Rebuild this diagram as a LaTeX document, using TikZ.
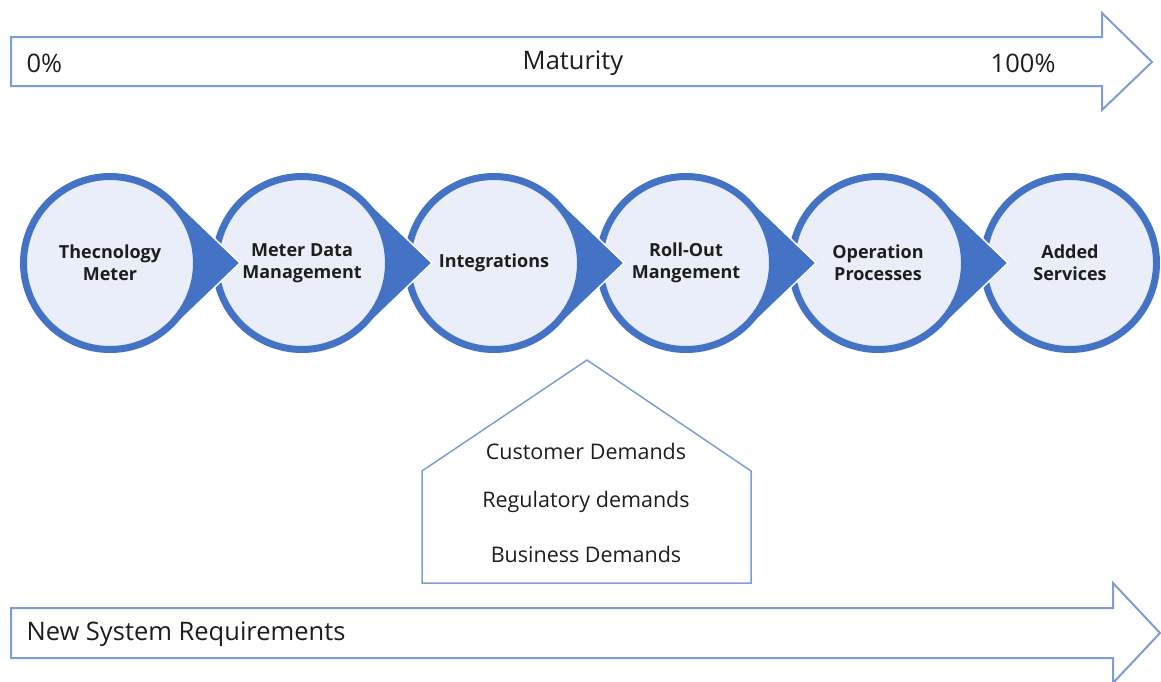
\documentclass[tikz,border=0pt]{standalone}
\usepackage{fontspec}
\setmainfont{Open Sans}
\usetikzlibrary{calc}
\definecolor{ringblue}{RGB}{68,114,196}
\definecolor{paleblue}{RGB}{233,238,248}
\definecolor{lineblue}{RGB}{126,157,214}
\definecolor{textgray}{RGB}{30,30,30}
\tikzset{
	stage/.style={circle,draw=ringblue,fill=paleblue,line width=7pt,minimum size=173pt,inner sep=0pt,align=center,text=textgray,font=\fontsize{18}{22}\selectfont\bfseries},
	stagetail/.style={fill=ringblue,draw=white,line width=1.5pt},
	bararrow/.style={draw=lineblue,line width=2pt,fill=white,line join=miter},
	demandbox/.style={draw=lineblue,line width=1.5pt},
	barlabel/.style={text=textgray,font=\fontsize{25.5}{30}\selectfont},
	demand/.style={text=textgray,font=\fontsize{21.5}{26}\selectfont}
}
\begin{document}
\begin{tikzpicture}[x=1pt,y=-1pt]
	\useasboundingbox (0,0) rectangle (1161,681);

	\draw[bararrow] (11,37) -- (1102,37) -- (1102,13) -- (1152,62) -- (1102,110) -- (1102,86) -- (11,86) -- cycle;
	\node[barlabel,anchor=west] (low) at (23,63) {0\%};
	\node[barlabel] (maturity) at (573,63) {Maturity};
	\node[barlabel,anchor=east] (high) at (1059,63) {100\%};

	\node[stage] (c6) at (1070,263) {Added\\Services};
	\foreach \i/\x/\txt in {5/878/{Operation\\Processes},4/686/{Roll-Out\\Mangement},3/494/{Integrations},2/302/{Meter Data\\Management},1/110/{Thecnology\\Meter}}{
		\coordinate (p\i) at (\x,263);
		\filldraw[stagetail] (p\i) -- ($(p\i)+(46:90)$) -- ($(p\i)+(130,0)$) -- ($(p\i)+(-46:90)$) -- cycle;
		\node[stage] (c\i) at (p\i) {\txt};
	}

	\draw[demandbox] (422,583) -- (422,471) -- (587,360) -- (751,471) -- (751,583) -- cycle;
	\node[demand] (customer) at (586,451) {Customer Demands};
	\node[demand] (regulatory) at (586,502) {Regulatory demands};
	\node[demand] (business) at (586,554) {Business Demands};

	\draw[bararrow] (11,608) -- (1113,608) -- (1113,583) -- (1160,633) -- (1113,683) -- (1113,658) -- (11,658) -- cycle;
	\node[barlabel,anchor=west] (newreq) at (23,634) {New System Requirements};
\end{tikzpicture}
\end{document}
